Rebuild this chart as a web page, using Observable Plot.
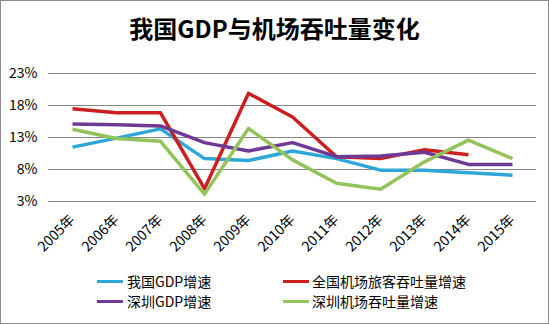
<!DOCTYPE html>
<html><head><meta charset="utf-8">
<script src="https://cdn.jsdelivr.net/npm/d3@7"></script>
<script src="https://cdn.jsdelivr.net/npm/@observablehq/plot@0.6"></script>
<style>
html,body{margin:0;padding:0;background:#fff;}
#wrap{position:relative;width:549px;height:324px;overflow:hidden;font-family:"Noto Sans CJK SC","Noto Sans",sans-serif;}
#frame{position:absolute;left:0;top:0;width:547px;height:322px;border:1px solid #8c8c8c;pointer-events:none;}
#title{position:absolute;left:0;top:9px;width:549px;text-align:center;font-size:24px;font-weight:bold;color:#000;line-height:38px;}
#chart{position:absolute;left:0;top:58px;}
.leg{position:absolute;font-size:14px;color:#000;line-height:20px;white-space:nowrap;}
.sw{position:absolute;height:3px;width:26px;}
</style></head>
<body><div id="wrap"><div id="title">我国GDP与机场吞吐量变化</div><div id="chart"></div><div id="legend"></div><div id="frame"></div></div>
<script>
const years = ["2005年","2006年","2007年","2008年","2009年","2010年","2011年","2012年","2013年","2014年","2015年"];
const chinaGDP = [11.5, 12.9, 14.35, 9.7, 9.4, 10.9, 9.7, 7.9, 7.9, 7.5, 7.1];
const nationalAirport = [17.5, 16.85, 16.85, 5.0, 19.9, 16.2, 10.0, 9.7, 11.1, 10.3];
const shenzhenGDP = [15.1, 15.0, 14.8, 12.2, 10.9, 12.2, 10.0, 10.1, 10.7, 8.8, 8.8];
const shenzhenAirport = [14.3, 12.85, 12.4, 4.15, 14.4, 9.5, 5.85, 4.9, 9.2, 12.6, 9.7];
const yTicks = [3, 8, 13, 18, 23];
const seriesNames = ["我国GDP增速","全国机场旅客吞吐量增速","深圳GDP增速","深圳机场吞吐量增速"];
const seriesValues = [chinaGDP, nationalAirport, shenzhenGDP, shenzhenAirport];
const seriesColors = ["#2ea7d8","#cc1f1f","#6f3a95","#93c35a"];

const rows = [];
seriesValues.forEach((vals, si) => vals.forEach((v, i) => rows.push({series: seriesNames[si], year: years[i], value: v})));

const fontFam = '"Noto Sans CJK SC","Noto Sans",sans-serif';
const chart = Plot.plot({
  width: 549, height: 205,
  marginTop: 15, marginBottom: 62, marginLeft: 48, marginRight: 13,
  style: {fontSize: "14px", fontFamily: fontFam, color: "#000", background: "transparent"},
  x: {type: "point", domain: years, padding: 0.5, label: null},
  y: {domain: [3, 23], label: null},
  color: {domain: seriesNames, range: seriesColors},
  marks: [
    Plot.ruleY(yTicks, {stroke: "#868686", strokeWidth: 1}),
    Plot.axisY({ticks: yTicks, tickFormat: d => d + "%", tickSize: 0, tickPadding: 11, label: null, fill: "#000"}),
    Plot.axisX({tickRotate: -45, tickSize: 0, tickPadding: 16, label: null, fill: "#000"}),
    Plot.line(rows, {x: "year", y: "value", z: "series", stroke: "series", strokeWidth: 3.5, strokeLinejoin: "round", strokeLinecap: "butt"})
  ]
});
document.getElementById("chart").appendChild(chart);

const legend = document.getElementById("legend");
const pos = [[97,127,281],[283,312,281],[97,127,301],[283,312,301]];
[0,1,2,3].forEach((si, k) => {
  const [sx, tx, cy] = pos[k];
  const sw = document.createElement("div");
  sw.className = "sw"; sw.style.left = sx + "px"; sw.style.top = (cy - 1) + "px"; sw.style.background = seriesColors[si];
  legend.appendChild(sw);
  const t = document.createElement("div");
  t.className = "leg"; t.style.left = tx + "px"; t.style.top = (cy - 10) + "px"; t.textContent = seriesNames[si];
  legend.appendChild(t);
});
</script></body></html>
